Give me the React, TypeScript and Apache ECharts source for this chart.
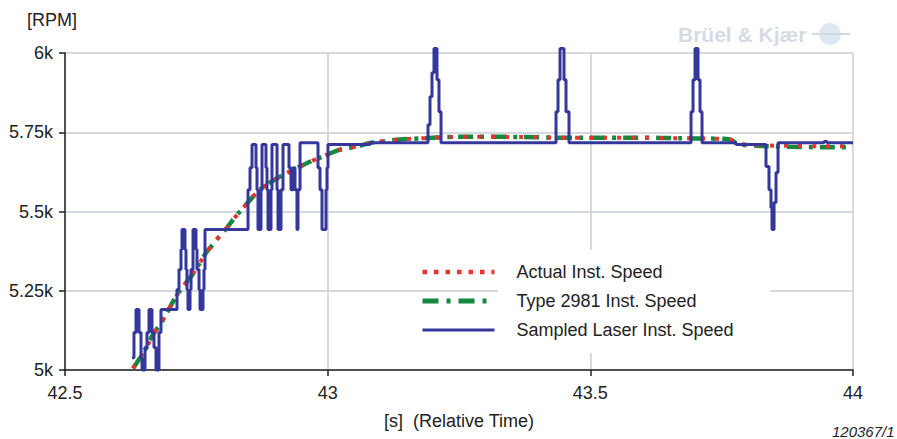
import React, { useEffect, useRef } from 'react';
import * as echarts from 'echarts';

const xTickValues = [42.5, 43, 43.5, 44];
const xTickLabels = ['42.5', '43', '43.5', '44'];
const yTickValues = [5000, 5250, 5500, 5750, 6000];
const yTickLabels = ['5k', '5.25k', '5.5k', '5.75k', '6k'];

const seriesNames = ['Actual Inst. Speed', 'Type 2981 Inst. Speed', 'Sampled Laser Inst. Speed'];

// Smooth reference curves (time in s, speed in RPM)
const smoothTime = [
  42.6294, 42.6371, 42.6485, 42.658, 42.6675, 42.6808, 42.6942, 42.7056, 42.7189, 42.7322,
  42.7437, 42.757, 42.7703, 42.7817, 42.7951, 42.8084, 42.8198, 42.8331, 42.8465, 42.8579,
  42.8712, 42.8845, 42.896, 42.9093, 42.9283, 42.9474, 42.9664, 42.9854, 43.0045, 43.0235,
  43.0425, 43.0616, 43.0806, 43.1092, 43.1377, 43.1815, 43.2329, 43.29, 43.3661, 43.4423,
  43.5184, 43.5946, 43.6707, 43.7278, 43.7659, 43.7811, 43.823, 43.8801, 43.9372, 44.0,
];
const actualRpm = [
  5005, 5024, 5052, 5080, 5112, 5143, 5181, 5216, 5251, 5279,
  5304, 5339, 5374, 5396, 5424, 5449, 5474, 5500, 5525, 5547,
  5569, 5585, 5597, 5610, 5626, 5642, 5657, 5670, 5683, 5695,
  5701, 5708, 5716, 5722, 5727, 5731, 5735, 5736, 5735, 5733,
  5733, 5733, 5731, 5730, 5727, 5714, 5709, 5707, 5706, 5706,
];
const type2981Rpm = [
  5005, 5024, 5052, 5080, 5112, 5143, 5181, 5216, 5251, 5279,
  5304, 5339, 5374, 5396, 5424, 5449, 5474, 5500, 5525, 5547,
  5569, 5585, 5597, 5610, 5626, 5642, 5657, 5670, 5683, 5695,
  5701, 5708, 5716, 5722, 5727, 5731, 5735, 5736, 5735, 5733,
  5733, 5733, 5731, 5730, 5727, 5713, 5707, 5704, 5703, 5703,
];

// Sampled laser speed: step trace (value holds until next time)
const laserTime = [
  42.6275, 42.6313, 42.6352, 42.6409, 42.6447, 42.6466, 42.6523, 42.6561, 42.6599, 42.6656,
  42.6694, 42.6732, 42.6789, 42.6827, 42.7132, 42.717, 42.7208, 42.7227, 42.7284, 42.7303,
  42.7322, 42.7341, 42.738, 42.7399, 42.7437, 42.7494, 42.7513, 42.7551, 42.757, 42.7627,
  42.7646, 42.7665, 42.8484, 42.8522, 42.856, 42.8636, 42.8655, 42.8674, 42.8731, 42.875,
  42.8826, 42.8845, 42.8864, 42.8921, 42.894, 42.9036, 42.9055, 42.9112, 42.915, 42.9264,
  42.9302, 42.934, 42.9378, 42.9416, 42.9435, 42.9474, 42.9816, 42.9854, 42.9892, 42.9968,
  42.9987, 43.0006, 43.0806, 43.191, 43.1948, 43.1986, 43.2024, 43.2081, 43.2119, 43.2158,
  43.4347, 43.4385, 43.4423, 43.4499, 43.4537, 43.4594, 43.6917, 43.6955, 43.6993, 43.705,
  43.7088, 43.7126, 43.7773, 43.8344, 43.8401, 43.8439, 43.8458, 43.8497, 43.8535, 43.8573,
  43.9448, 43.9505, 44.0,
];
const laserRpm = [
  5039, 5118, 5191, 5118, 5039, 5000, 5071, 5118, 5191, 5118,
  5071, 5000, 5118, 5191, 5254, 5317, 5380, 5443, 5380, 5317,
  5254, 5191, 5254, 5317, 5443, 5380, 5317, 5254, 5191, 5254,
  5317, 5443, 5569, 5638, 5711, 5638, 5569, 5443, 5569, 5711,
  5638, 5569, 5443, 5569, 5711, 5569, 5443, 5569, 5711, 5638,
  5569, 5638, 5569, 5443, 5569, 5717, 5638, 5569, 5443, 5569,
  5638, 5711, 5717, 5774, 5862, 5938, 6014, 5916, 5815, 5717,
  5815, 5916, 6014, 5916, 5815, 5717, 5815, 5916, 6014, 5916,
  5815, 5717, 5711, 5642, 5569, 5512, 5443, 5528, 5623, 5717,
  5721, 5717, 5717,
];

const zip = (a: number[], b: number[]) => a.map((v, i) => [v, b[i]]);
const labelFor = (vals: number[], labels: string[]) => (v: number) => {
  const i = vals.findIndex((t) => Math.abs(t - v) < 1e-6);
  return i >= 0 ? labels[i] : '';
};

const FONT = '"Liberation Sans", Arial, Helvetica, sans-serif';
const TEXT = '#222222';
const GRIDC = '#c9cdd6';
const RED = '#e8332f';
const GREEN = '#14893f';
const BLUE = '#35379b';

export default function App() {
  const ref = useRef<HTMLDivElement>(null);
  useEffect(() => {
    if (!ref.current) return;
    const chart = echarts.init(ref.current, undefined, { renderer: 'svg' });
    chart.setOption({
      animation: false,
      backgroundColor: '#ffffff',
      textStyle: { fontFamily: FONT },
      grid: { left: 65, right: 44, top: 53, bottom: 69, outerBoundsMode: 'none' },
      xAxis: {
        type: 'value',
        min: 42.5,
        max: 44,
        interval: 0.5,
        name: '[s]  (Relative Time)',
        nameLocation: 'middle',
        nameGap: 42,
        nameTextStyle: { fontSize: 18, color: TEXT, fontFamily: FONT },
        axisLine: { show: true, onZero: false, lineStyle: { color: TEXT, width: 1.5 } },
        axisTick: { show: true, length: 6, lineStyle: { color: TEXT, width: 1.5 } },
        axisLabel: { fontSize: 18, color: TEXT, margin: 14, formatter: labelFor(xTickValues, xTickLabels) },
        splitLine: { show: true, lineStyle: { color: GRIDC, width: 1.5 } },
      },
      yAxis: {
        type: 'value',
        min: 5000,
        max: 6000,
        interval: 250,
        name: '[RPM]',
        nameLocation: 'end',
        nameGap: 24,
        nameTextStyle: { fontSize: 18, color: TEXT, align: 'center', padding: [0, 26, 0, 0], fontFamily: FONT },
        axisLine: { show: true, onZero: false, lineStyle: { color: TEXT, width: 1.5 } },
        axisTick: { show: true, length: 6, lineStyle: { color: TEXT, width: 1.5 } },
        axisLabel: { fontSize: 18, color: TEXT, margin: 12, formatter: labelFor(yTickValues, yTickLabels) },
        splitLine: { show: true, lineStyle: { color: GRIDC, width: 1.5 } },
      },
      legend: {
        orient: 'vertical',
        left: 420,
        top: 263,
        padding: 0,
        itemGap: 11,
        itemWidth: 72,
        itemHeight: 14,
        data: [
          { name: seriesNames[0], lineStyle: { color: RED, width: 4.5, type: [4.5, 7] } },
          { name: seriesNames[1], lineStyle: { color: GREEN, width: 5, type: [16, 8, 4, 8] } },
          { name: seriesNames[2], lineStyle: { color: BLUE, width: 3, type: 'solid' } },
        ],
        itemStyle: { opacity: 0 },
        textStyle: { fontSize: 18, color: TEXT, lineHeight: 18, padding: [0, 0, 0, 17], fontFamily: FONT },
      },
      graphic: [
        { type: 'rect', z: 1, silent: true, shape: { x: 498, y: 250, width: 272, height: 103 }, style: { fill: '#ffffff' } },
        {
          type: 'text', x: 678, y: 34, silent: true,
          style: { text: 'Brüel & Kjær', fontSize: 21, fontWeight: 'bold', fill: '#d6dae2', verticalAlign: 'middle', fontFamily: FONT },
        },
        { type: 'circle', silent: true, shape: { cx: 830, cy: 34, r: 11 }, style: { fill: '#dfe7f1' } },
        { type: 'line', silent: true, shape: { x1: 812, y1: 34, x2: 850, y2: 34 }, style: { stroke: '#cfdae8', lineWidth: 2 } },
        {
          type: 'text', x: 832, y: 431, silent: true,
          style: { text: '120367/1', fontSize: 15, fontStyle: 'italic', fill: TEXT, verticalAlign: 'middle', fontFamily: FONT },
        },
      ],
      series: [
        {
          name: seriesNames[0],
          type: 'line',
          data: zip(smoothTime, actualRpm),
          symbol: 'none',
          smooth: 0.3,
          clip: false,
          lineStyle: { color: RED, width: 4, type: [4, 10] },
          itemStyle: { color: RED },
          z: 4,
        },
        {
          name: seriesNames[1],
          type: 'line',
          data: zip(smoothTime, type2981Rpm),
          symbol: 'none',
          smooth: 0.3,
          clip: false,
          lineStyle: { color: GREEN, width: 4.5, type: [15, 7, 4, 7] },
          itemStyle: { color: GREEN },
          z: 3,
        },
        {
          name: seriesNames[2],
          type: 'line',
          data: zip(laserTime, laserRpm),
          step: 'end',
          symbol: 'none',
          clip: false,
          lineStyle: { color: BLUE, width: 3 },
          itemStyle: { color: BLUE },
          z: 5,
        },
      ],
    });
    return () => chart.dispose();
  }, []);
  return <div ref={ref} style={{ position: 'fixed', left: 0, top: 0, width: 897, height: 439 }} />;
}
